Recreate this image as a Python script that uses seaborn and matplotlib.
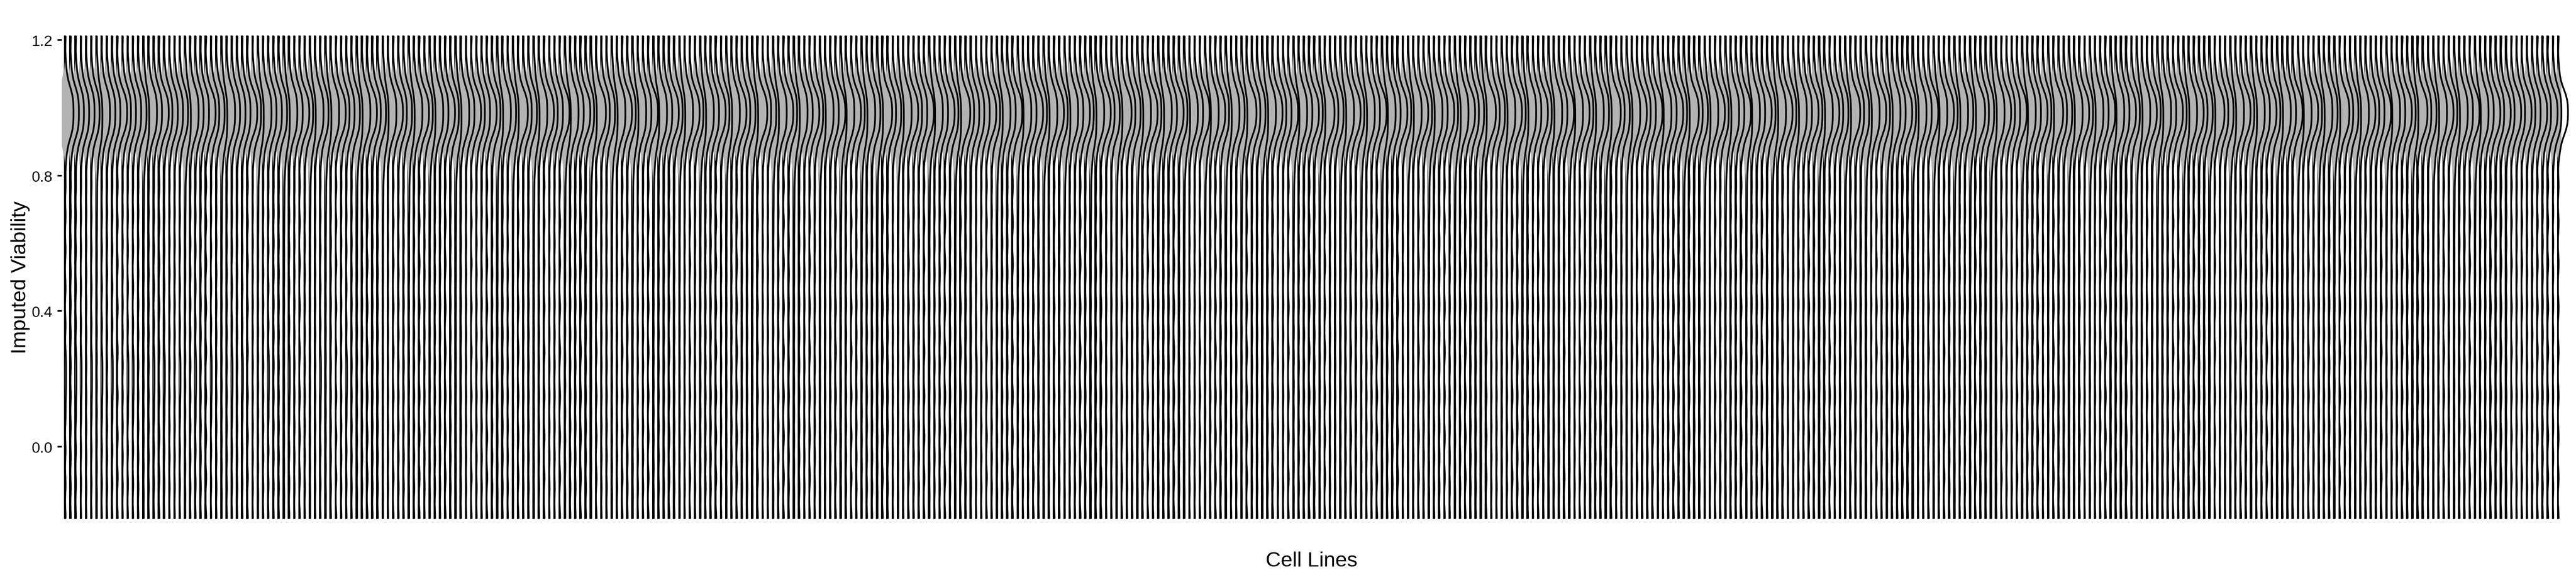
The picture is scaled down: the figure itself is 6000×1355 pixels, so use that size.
import numpy as np
import pandas as pd
import matplotlib
matplotlib.use("Agg")
import matplotlib.pyplot as plt
from matplotlib.patches import Rectangle
import seaborn as sns

# ---------------- data ----------------
# Representative imputed-viability samples (distribution shapes)
profile_A = [-0.21, -0.12, -0.03, 0.06, 0.15, 0.24, 0.33, 0.42, 0.51, 0.6, 0.69, 0.77,
             0.84, 0.87, 0.89,
             0.91, 0.915, 0.92, 0.925, 0.93, 0.935, 0.94, 0.945, 0.95, 0.955, 0.96, 0.965,
             0.97, 0.975, 0.98, 0.985, 0.99, 0.995, 1.0, 1.005, 1.01, 1.015, 1.02, 1.025,
             1.03, 1.035, 1.04, 1.045, 1.05, 1.055, 1.06,
             1.08, 1.10, 1.13, 1.21]
profile_B = [-0.21, -0.14, -0.06, 0.02, 0.1, 0.18, 0.26, 0.34, 0.42, 0.5, 0.57, 0.64, 0.7, 0.75,
             0.8, 0.83, 0.855, 0.875,
             0.89, 0.898, 0.906, 0.914, 0.922, 0.93, 0.938, 0.946, 0.954, 0.962, 0.97,
             0.978, 0.986, 0.994, 1.002, 1.01, 1.018, 1.026, 1.034, 1.042, 1.05,
             1.065, 1.085, 1.11, 1.14, 1.21]
profile_C = [-0.21, -0.09, 0.03, 0.15, 0.28, 0.41, 0.54, 0.66, 0.77,
             0.86, 0.885, 0.9,
             0.92, 0.925, 0.93, 0.935, 0.94, 0.945, 0.95, 0.955, 0.96, 0.965, 0.97, 0.975,
             0.98, 0.985, 0.99, 0.995, 1.0, 1.005, 1.01, 1.015, 1.02, 1.025, 1.03, 1.035,
             1.04, 1.045, 1.05,
             1.065, 1.085, 1.12, 1.21]
profile_D = [-0.21, -0.11, -0.01, 0.09, 0.15, 0.19, 0.23, 0.27, 0.36, 0.47, 0.58, 0.68, 0.77,
             0.84, 0.87, 0.89,
             0.91, 0.915, 0.92, 0.925, 0.93, 0.935, 0.94, 0.945, 0.95, 0.955, 0.96, 0.965,
             0.97, 0.975, 0.98, 0.985, 0.99, 0.995, 1.0, 1.005, 1.01, 1.015, 1.02, 1.025,
             1.03, 1.035, 1.04, 1.045, 1.05, 1.055, 1.06,
             1.08, 1.10, 1.13, 1.21]
profiles = {"A": profile_A, "B": profile_B, "C": profile_C, "D": profile_D}

# which distribution shape each cell line (left to right) resembles
profile_blocks = [
    "DADDADBDAD", "CADDABADCD", "AADBADACDA", "BADADCABAD", "AABDACABAD", "BACADABACA",
    "ABACAABACA", "BAACABAACA", "ACABAABCAA", "BACAACBAAC", "ABCAABACAB", "AACBAACABA",
    "CABAACABAC", "AABCAABACA", "BAACABAACB", "ACABAABCAA", "BACAACBAAC", "ABCAADACAB",
    "AACBAACABA", "CABAACABAC", "AABCAABACA", "BAACABAACB", "ACABAABCAA", "BACAACBAAC",
    "ABCAABACAB", "AACBADCABA", "CABAACABAC", "AABCAABACA", "BAACABAACB", "ACABAABCAA",
    "BACAACBAAC", "ABCAABACAB", "AACBAACABA", "CABAACABAC", "AABCAABACA", "BAACABAACB",
    "ACABAABCAA", "BACAACBAAC", "ABCAABACAB", "AACBAACABA", "CABAACABAC", "AABCAABACA",
    "BAACABAACB", "ACABAABCAA", "BACAACBAAC", "ABCAABACAB", "AACBAACACA", "CACAACACAC",
]
profile_of_line = "".join(profile_blocks)
cell_lines = [f"CL{i + 1:03d}" for i in range(len(profile_of_line))]

y_ticks = [0.0, 0.4, 0.8, 1.2]
y_tick_labels = ["0.0", "0.4", "0.8", "1.2"]

# ---------------- table ----------------
rows_line, rows_val = [], []
for name, p in zip(cell_lines, profile_of_line):
    vals = profiles[p]
    rows_line.extend([name] * len(vals))
    rows_val.extend(vals)
df = pd.DataFrame({"Cell Lines": rows_line, "Imputed Viability": rows_val})

# ---------------- plot ----------------
sns.set_theme(style="white")
plt.rcParams["font.family"] = ["Liberation Sans", "DejaVu Sans"]

W, H, DPI = 6000, 1356, 300
fig = plt.figure(figsize=(W / DPI, H / DPI), dpi=DPI)
ax_l, ax_r, ax_t, ax_b = 144, 5965, 24, 1269
ax = fig.add_axes([ax_l / W, 1 - ax_b / H, (ax_r - ax_l) / W, (ax_b - ax_t) / H])

common = dict(data=df, x="Cell Lines", y="Imputed Viability", order=cell_lines,
              width=3.9, inner=None, cut=0, bw_method=0.075, density_norm="area",
              saturation=1, ax=ax)

# grey violin bodies
sns.violinplot(color="#b3b3b3", linewidth=0, **common)
n_fill = len(ax.collections)
for coll in ax.collections:
    coll.set_zorder(2)

# black outline, visible on the right-hand side of each violin
LW = 0.95
sns.violinplot(color="black", fill=False, linewidth=LW, **common)
half_lw_units = (LW / 72 * DPI / 2) / ((ax_r - ax_l) / (len(cell_lines) + 0.2))
for coll in ax.collections[n_fill:]:
    v = coll.get_paths()[0].vertices
    xc = (v[:, 0].min() + v[:, 0].max()) / 2
    clip = Rectangle((xc - half_lw_units - 0.01, -5), 1000, 10, transform=ax.transData)
    coll.set_clip_path(clip)
    coll.set_zorder(3)
    coll.set_joinstyle("round")
    coll.set_capstyle("round")

ax.set_xlim(-0.6, len(cell_lines) - 1 + 0.6)
ax.set_ylim(-0.288, 1.288)
ax.set_xticks([])
ax.set_yticks(y_ticks)
ax.set_yticklabels(y_tick_labels)
for s in ax.spines.values():
    s.set_visible(False)
ax.tick_params(axis="y", left=True, length=2.5, width=0.9, color="black",
               pad=2.6, labelsize=8.4, labelcolor="black")
ax.set_xlabel("Cell Lines", fontsize=11.7, color="black")
ax.set_ylabel("Imputed Viability", fontsize=11.7, color="black")
ax.xaxis.set_label_coords(0.5, -0.012)
ax.yaxis.set_label_coords((70 - ax_l) / (ax_r - ax_l), 0.5)

fig.savefig("out.png", dpi=DPI, facecolor="white")
